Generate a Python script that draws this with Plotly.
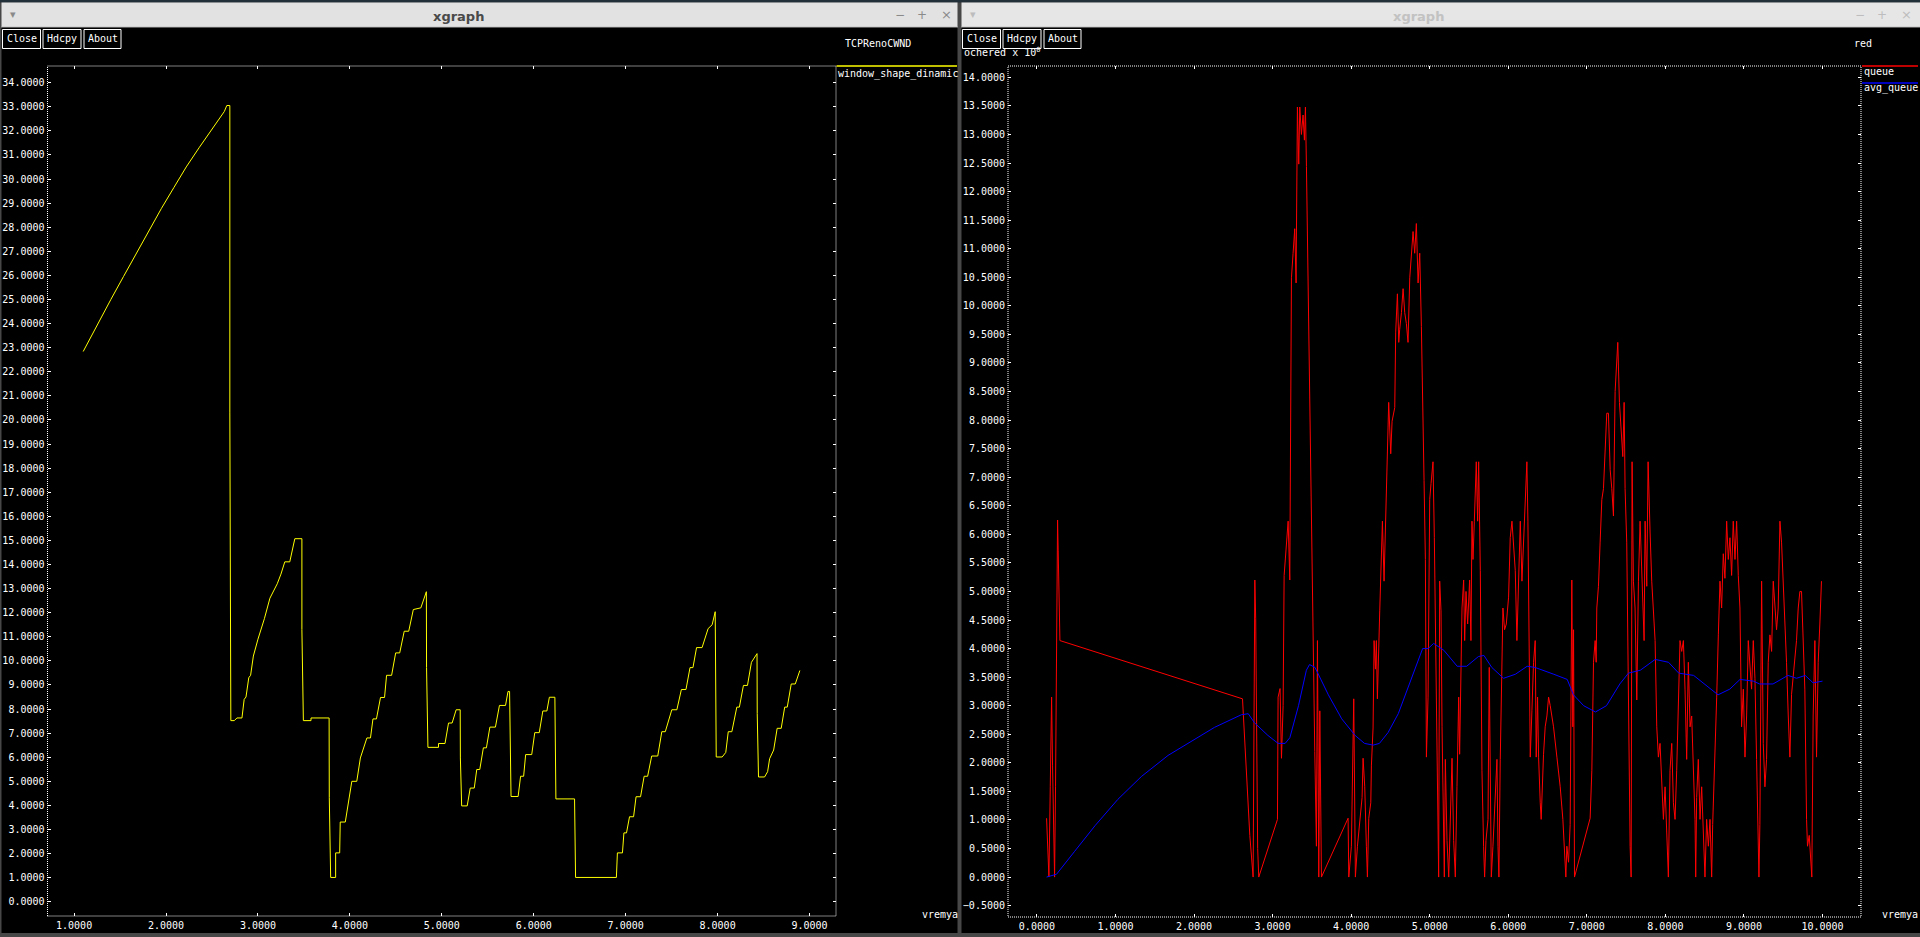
import plotly.graph_objects as go

# ---------------- data ----------------
cwnd_time = [1.099, 1.18, 1.263, 1.40, 1.537, 1.68, 1.811, 1.95, 2.086, 2.22, 2.360, 2.50, 2.634, 2.661, 2.694,
             2.694, 2.705, 2.743, 2.771, 2.826,
             2.85, 2.87, 2.90, 2.92, 2.95, 3.00, 3.07, 3.13, 3.21, 3.25, 3.292, 3.346, 3.38, 3.401, 3.478, 3.478,
             3.494, 3.577, 3.577, 3.774, 3.776, 3.791, 3.845, 3.845, 3.889, 3.895, 3.95, 3.982, 4.021, 4.075,
             4.114, 4.185, 4.224, 4.251, 4.289, 4.333, 4.377, 4.399, 4.454, 4.498, 4.542, 4.591, 4.640, 4.690,
             4.772, 4.832, 4.834, 4.849, 4.964, 4.964, 5.035, 5.073, 5.112, 5.156, 5.200, 5.202, 5.216, 5.276,
             5.309, 5.353, 5.380, 5.413, 5.452, 5.485, 5.523, 5.583, 5.627, 5.693, 5.720, 5.737, 5.753, 5.830,
             5.857, 5.890, 5.912, 5.978, 6.011, 6.060, 6.099, 6.143, 6.170, 6.230, 6.232, 6.241, 6.444, 6.446,
             6.455, 6.899, 6.910, 6.965, 6.981, 7.009, 7.042, 7.086, 7.113, 7.162, 7.201, 7.239, 7.283, 7.349,
             7.393, 7.431, 7.502, 7.557, 7.606, 7.656, 7.700, 7.732, 7.771, 7.831, 7.897, 7.941, 7.974, 7.985,
             8.050, 8.089, 8.116, 8.155, 8.209, 8.237, 8.281, 8.325, 8.368, 8.429, 8.431, 8.445, 8.511, 8.544,
             8.566, 8.610, 8.648, 8.692, 8.730, 8.758, 8.801, 8.845, 8.895]
cwnd_value = [22.84, 23.43, 24.0, 25.0, 25.95, 26.95, 27.85, 28.78, 29.65, 30.5, 31.3, 32.08, 32.8, 33.05, 33.05,
              20.29, 7.52, 7.52, 7.63, 7.63,
              8.4, 8.5, 9.3, 9.4, 10.2, 10.9, 11.75, 12.6, 13.2, 13.6, 14.11, 14.11, 14.7, 15.07, 15.07, 11.30,
              7.52, 7.52, 7.63, 7.63, 4.32, 1.01, 1.01, 2.03, 2.03, 3.31, 3.31, 4.16, 5.0, 5.0,
              5.97, 6.80, 6.80, 7.59, 7.59, 8.48, 8.48, 9.40, 9.40, 10.33, 10.33, 11.23, 11.23, 12.13,
              12.2, 12.87, 9.72, 6.41, 6.41, 6.57, 6.57, 7.42, 7.42, 7.97, 7.97, 5.97, 3.98, 3.98,
              4.72, 4.72, 5.49, 5.49, 6.39, 6.39, 7.25, 7.25, 8.15, 8.15, 8.73, 8.73, 4.37, 4.37,
              5.21, 5.21, 6.11, 6.11, 7.02, 7.02, 7.92, 7.92, 8.49, 8.49, 6.39, 4.27, 4.27, 2.63,
              1.01, 1.01, 2.03, 2.03, 2.86, 2.86, 3.53, 3.53, 4.36, 4.36, 5.21, 5.21, 6.05, 6.05,
              7.06, 7.06, 7.97, 7.97, 8.81, 8.81, 9.72, 9.72, 10.55, 10.55, 11.34, 11.5, 12.04, 6.01,
              6.01, 6.2, 7.06, 7.06, 8.08, 8.08, 8.98, 8.98, 9.94, 10.30, 7.81, 5.18, 5.18, 5.40,
              5.94, 6.3, 7.20, 7.20, 8.08, 8.08, 9.04, 9.04, 9.60]

queue_time = [0.123, 0.136, 0.153, 0.170, 0.187, 0.199, 0.212, 0.225, 0.237, 0.250, 0.263, 0.271, 0.280, 0.293,
              2.617, 2.625, 2.646, 2.668, 2.689, 2.710, 2.752, 2.774, 2.785, 2.795, 2.810, 2.824, 3.062, 3.070,
              3.095, 3.113, 3.134, 3.147, 3.176, 3.198, 3.219, 3.232, 3.240, 3.261, 3.282, 3.299, 3.316, 3.333,
              3.346, 3.367, 3.388, 3.405, 3.418, 3.431, 3.444, 3.465, 3.482, 3.503, 3.520, 3.537, 3.558, 3.571,
              3.588, 3.601, 3.622, 3.961, 3.970, 4.003, 4.033, 4.054, 4.080, 4.109, 4.139, 4.152, 4.173, 4.194,
              4.207, 4.224, 4.250, 4.258, 4.279, 4.292, 4.309, 4.321, 4.334, 4.364, 4.377, 4.398, 4.419, 4.436,
              4.461, 4.478, 4.504, 4.521, 4.555, 4.567, 4.589, 4.606, 4.618, 4.640, 4.661, 4.682, 4.703, 4.724,
              4.746, 4.767, 4.788, 4.809, 4.830, 4.852, 4.873, 4.894, 4.915, 4.928, 4.945, 4.958, 4.979, 5.0,
              5.017, 5.042, 5.059, 5.072, 5.093, 5.114, 5.127, 5.144, 5.157, 5.169, 5.186, 5.199, 5.220, 5.242,
              5.263, 5.284, 5.305, 5.326, 5.347, 5.369, 5.381, 5.398, 5.411, 5.432, 5.445, 5.462, 5.483, 5.508,
              5.525, 5.538, 5.551, 5.568, 5.593, 5.610, 5.623, 5.644, 5.665, 5.686, 5.699, 5.716, 5.742, 5.758,
              5.771, 5.784, 5.805, 5.822, 5.843, 5.856, 5.869, 5.881, 5.898, 5.911, 5.932, 5.953, 5.975, 6.004,
              6.025, 6.047, 6.068, 6.089, 6.110, 6.131, 6.153, 6.174, 6.195, 6.216, 6.237, 6.250, 6.263, 6.280,
              6.301, 6.322, 6.343, 6.356, 6.373, 6.386, 6.407, 6.419, 6.449, 6.470, 6.492, 6.513, 6.534, 6.576,
              6.619, 6.661, 6.695, 6.712, 6.733, 6.746, 6.767, 6.788, 6.809, 6.822, 6.831, 6.843, 7.042, 7.064,
              7.085, 7.106, 7.119, 7.127, 7.148, 7.169, 7.191, 7.212, 7.233, 7.254, 7.275, 7.297, 7.318, 7.339,
              7.360, 7.381, 7.394, 7.415, 7.436, 7.458, 7.475, 7.487, 7.508, 7.530, 7.551, 7.564, 7.576, 7.593,
              7.614, 7.636, 7.657, 7.678, 7.699, 7.712, 7.729, 7.742, 7.763, 7.780, 7.797, 7.805, 7.826, 7.847,
              7.869, 7.890, 7.911, 7.932, 7.953, 7.975, 7.996, 8.017, 8.038, 8.059, 8.081, 8.102, 8.123, 8.144,
              8.165, 8.186, 8.208, 8.229, 8.250, 8.271, 8.292, 8.314, 8.335, 8.356, 8.377, 8.386, 8.398, 8.419,
              8.441, 8.462, 8.483, 8.504, 8.525, 8.547, 8.568, 8.589, 8.602, 8.619, 8.631, 8.653, 8.674, 8.695,
              8.716, 8.737, 8.758, 8.780, 8.801, 8.822, 8.843, 8.864, 8.886, 8.907, 8.928, 8.949, 8.970, 8.992,
              9.013, 9.034, 9.055, 9.076, 9.097, 9.119, 9.140, 9.161, 9.182, 9.191, 9.203, 9.225, 9.246, 9.267,
              9.288, 9.309, 9.331, 9.352, 9.373, 9.394, 9.415, 9.436, 9.458, 9.479, 9.500, 9.521, 9.542, 9.564,
              9.585, 9.606, 9.627, 9.648, 9.669, 9.691, 9.712, 9.733, 9.754, 9.775, 9.797, 9.809, 9.831, 9.847,
              9.864, 9.881, 9.903, 9.924, 9.945, 9.966, 9.987]
queue_value = [1.03, 0.63, 0.0, 1.58, 3.15, 1.96, 1.15, 0.0, 1.58, 4.66, 6.25, 5.71, 4.66, 4.14,
               3.12, 2.91, 2.34, 1.77, 1.20, 0.73, 0.0, 5.20, 4.52, 2.2, 0.5, 0.0, 1.01, 3.15,
               3.30, 2.08, 3.0, 5.28, 5.94, 6.23, 5.20, 7.79, 10.49, 10.92, 11.35, 10.40, 13.48, 12.48,
               13.48, 13.0, 13.34, 12.9, 13.48, 12.44, 11.11, 9.69, 6.99, 5.80, 4.0, 2.20, 0.54, 4.14,
               0.0, 2.91, 0.0, 1.03, 0.0, 0.54, 3.12, 0.0, 0.54, 0.92, 1.39, 2.08, 1.58, 0.54,
               0.0, 1.03, 1.30, 1.96, 2.61, 4.14, 3.64, 4.14, 3.12, 4.66, 5.47, 6.23, 5.18, 5.99,
               7.55, 8.31, 7.41, 7.98, 8.22, 9.54, 10.21, 9.36, 9.59, 9.88, 10.30, 9.88, 9.69, 9.36,
               10.49, 10.92, 11.30, 10.92, 11.44, 10.40, 10.92, 9.64, 8.31, 6.94, 5.56, 2.10, 3.15, 6.61,
               6.89, 7.27, 5.94, 4.33, 1.87, 0.0, 5.18, 4.66, 2.63, 1.58, 0.0, 2.06, 0.64, 0.0,
               0.92, 2.08, 0.64, 0.0, 1.58, 3.15, 2.15, 3.67, 4.71, 5.20, 4.14, 5.0, 4.43, 5.20,
               4.14, 6.23, 5.56, 6.23, 7.27, 6.23, 7.27, 5.37, 1.87, 0.54, 0.0, 0.64, 1.01, 3.67,
               1.01, 0.0, 0.54, 1.01, 1.58, 2.06, 0.54, 0.0, 2.06, 3.0, 4.71, 4.33, 4.43, 4.90,
               5.94, 6.23, 5.71, 5.37, 4.14, 5.28, 6.23, 5.18, 5.85, 6.61, 7.27, 6.23, 4.14, 2.10,
               2.91, 3.76, 4.14, 2.10, 3.15, 2.10, 1.30, 1.01, 2.15, 2.63, 2.82, 3.15, 3.0, 2.63,
               2.10, 1.58, 1.01, 0.54, 0.0, 0.54, 0.26, 0.92, 5.20, 2.63, 4.33, 0.0, 1.03, 1.87,
               3.76, 4.14, 3.76, 4.71, 5.09, 5.85, 6.61, 6.80, 7.55, 8.12, 8.12, 7.13, 6.80, 6.32,
               8.50, 9.07, 9.36, 8.31, 7.74, 7.36, 8.31, 6.80, 5.85, 2.63, 0.54, 0.0, 7.27, 5.18,
               4.71, 3.10, 5.18, 6.23, 5.47, 4.71, 4.14, 6.23, 5.09, 7.27, 6.23, 6.04, 5.18, 4.71,
               4.14, 2.63, 2.10, 2.34, 1.58, 1.01, 1.58, 0.73, 0.0, 1.87, 2.34, 1.30, 1.01, 1.87,
               3.29, 4.14, 3.95, 4.14, 3.29, 2.06, 3.76, 2.63, 2.82, 2.06, 1.01, 0.0, 1.39, 2.06,
               1.01, 1.58, 0.82, 0.0, 1.01, 0.54, 1.01, 0.0, 0.92, 1.58, 2.34, 3.15, 4.24, 5.18,
               4.71, 5.66, 5.23, 6.23, 5.56, 5.94, 5.28, 6.23, 5.56, 6.23, 5.28, 4.71, 2.63, 3.29,
               2.10, 2.82, 4.14, 3.76, 3.29, 4.14, 3.48, 2.06, 0.92, 0.0, 0.92, 5.18, 2.34, 1.58,
               2.06, 3.76, 4.24, 3.95, 5.18, 4.71, 4.33, 4.71, 6.23, 5.85, 5.18, 4.71, 3.76, 2.82,
               2.10, 3.20, 3.48, 3.76, 4.14, 4.71, 5.0, 5.0, 4.24, 3.29, 1.01, 0.54, 0.73, 0.35,
               0.0, 2.82, 4.14, 2.10, 3.76, 4.43, 5.18]

avg_time = [0.123, 0.25, 0.48, 0.74, 1.03, 1.33, 1.67, 2.01, 2.26, 2.60, 2.69, 2.77, 2.94, 3.07, 3.16,
            3.22, 3.33, 3.43, 3.47, 3.54, 3.71, 3.88, 4.05, 4.17, 4.28, 4.36, 4.47, 4.60, 4.77, 4.91,
            4.98, 5.05, 5.18, 5.35, 5.47, 5.62, 5.69, 5.79, 5.94, 6.09, 6.24, 6.34, 6.58, 6.75, 6.83,
            6.96, 7.11, 7.25, 7.42, 7.53, 7.68, 7.87, 8.04, 8.17, 8.36, 8.53, 8.67, 8.82, 8.95, 9.12,
            9.20, 9.37, 9.56, 9.67, 9.78, 9.88, 10.0]
avg_value = [0.0, 0.05, 0.45, 0.90, 1.36, 1.76, 2.13, 2.42, 2.62, 2.84, 2.86, 2.70, 2.48, 2.34, 2.34,
             2.44, 3.0, 3.62, 3.72, 3.67, 3.19, 2.77, 2.48, 2.34, 2.31, 2.34, 2.53, 2.86, 3.48, 4.0,
             4.0, 4.09, 3.97, 3.69, 3.69, 3.86, 3.88, 3.67, 3.48, 3.55, 3.69, 3.67, 3.55, 3.46, 3.19,
             3.0, 2.89, 3.0, 3.38, 3.57, 3.62, 3.81, 3.76, 3.57, 3.53, 3.34, 3.19, 3.29, 3.46, 3.43,
             3.38, 3.38, 3.53, 3.48, 3.53, 3.40, 3.43]

left_title = "TCPRenoCWND"
right_title = "red"
left_series = "window_shape_dinamic"
right_series = ["queue", "avg_queue"]
x_label = "vremya"
y_label_right = "ochered x 10<sup>0</sup>"
buttons = ["Close", "Hdcpy", "About"]

# ---------------- layout helpers ----------------
W, H = 1920, 937
MONO = "DejaVu Sans Mono"


def px(x):
    return x / W


def py(y):
    return 1 - y / H


def txt(x, y, s, size=10, color="white", family=MONO, xanchor="left", yanchor="middle"):
    return dict(x=px(x), y=py(y), xref="paper", yref="paper", text=s, showarrow=False,
                font=dict(family=family, size=size, color=color), xanchor=xanchor, yanchor=yanchor,
                borderpad=0)


def rect(x0, y0, x1, y1, fill=None, line=None, lw=1, layer="below"):
    d = dict(type="rect", xref="paper", yref="paper", x0=px(x0), x1=px(x1), y0=py(y0), y1=py(y1),
             layer=layer, line=dict(width=0 if line is None else lw, color=line or "rgba(0,0,0,0)"))
    if fill:
        d["fillcolor"] = fill
    return d


def hline(x0, x1, y, color, w=1):
    return dict(type="line", xref="paper", yref="paper", x0=px(x0), x1=px(x1), y0=py(y), y1=py(y),
                line=dict(color=color, width=w), layer="above")


fig = go.Figure()
fig.add_trace(go.Scatter(x=cwnd_time, y=cwnd_value, mode="lines", line=dict(color="#ffff00", width=1),
                         xaxis="x", yaxis="y", name=left_series, hoverinfo="skip"))
fig.add_trace(go.Scatter(x=queue_time, y=queue_value, mode="lines", line=dict(color="#ff0000", width=1),
                         xaxis="x2", yaxis="y2", name=right_series[0], hoverinfo="skip"))
fig.add_trace(go.Scatter(x=avg_time, y=avg_value, mode="lines", line=dict(color="#0000ff", width=1),
                         xaxis="x2", yaxis="y2", name=right_series[1], hoverinfo="skip"))

axis_common = dict(showgrid=False, zeroline=False, showline=False, ticks="inside", ticklen=3,
                   tickwidth=1, tickcolor="white", mirror="ticks", tickformat=".4f",
                   tickfont=dict(family=MONO, size=10, color="white"), automargin=False,
                   fixedrange=True, ticklabelstandoff=2)

L = dict(x0=47.5, x1=836, y0=66, y1=916)
R = dict(x0=1008, x1=1861, y0=66, y1=917)

fig.update_layout(
    width=W, height=H, margin=dict(l=0, r=0, t=0, b=0),
    paper_bgcolor="#474747", plot_bgcolor="black", showlegend=False,
    xaxis=dict(domain=[px(L["x0"]), px(L["x1"])], range=[0.7106, 9.288], dtick=1, tick0=0,
               anchor="y", **axis_common),
    yaxis=dict(domain=[py(L["y1"]), py(L["y0"])], range=[-0.59, 34.69], dtick=1, tick0=0,
               anchor="x", **axis_common),
    xaxis2=dict(domain=[px(R["x0"]), px(R["x1"])], range=[-0.368, 10.49], dtick=1, tick0=0,
                anchor="y2", **axis_common),
    yaxis2=dict(domain=[py(R["y1"]), py(R["y0"])], range=[-0.699, 14.198], dtick=0.5, tick0=0,
                anchor="x2", **axis_common),
)

shapes = []
# desktop strip / window chrome
shapes.append(rect(0, 0, W, 2.5, fill="#22303a"))
for (wx0, wx1, active) in [(1.5, 957.5, True), (961.5, 1920, False)]:
    shapes.append(rect(wx0, 2.5, wx1, 27.5, fill="#e2e2e2" if active else "#e6e6e6"))
    shapes.append(rect(wx0, 26.5, wx1, 27.5, fill="#c4c4c4"))
    shapes.append(rect(wx0, 27.5, wx1, 933, fill="black"))
# buttons
for off in (0, 960):
    for (bx0, bx1) in [(2.5, 40.5), (43, 81), (84, 121)]:
        shapes.append(rect(off + bx0, 29.5, off + bx1, 48.5, line="white", lw=1, layer="above"))
# dotted frames
for xr, yr in [("x", "y"), ("x2", "y2")]:
    shapes.append(dict(type="rect", xref=f"{xr} domain", yref=f"{yr} domain", x0=0, x1=1, y0=0, y1=1,
                       line=dict(color="white", width=1, dash="1px,1px"), layer="above"))
# legend swatches
shapes.append(hline(836.5, 957, 66, "#ffff00", 1.5))
shapes.append(hline(1862, 1918, 66, "#ff0000", 1.5))
shapes.append(hline(1862, 1918, 83, "#0000ff", 1.5))

ann = []
ann.append(txt(458, 16, "<b>xgraph</b>", size=13, color="#4a4a4a", family="DejaVu Sans", xanchor="center"))
ann.append(txt(1418, 16, "<b>xgraph</b>", size=13, color="#c2c2c2", family="DejaVu Sans", xanchor="center"))
for off, col in [(0, "#8a8a8a"), (960, "#bdbdbd")]:
    ann.append(txt(off + 13, 15, "▾", size=11, color=col, family="DejaVu Sans", xanchor="center"))
    ann.append(txt(off + 900, 15, "−", size=12, color=col, family="DejaVu Sans", xanchor="center"))
    ann.append(txt(off + 921.5, 15, "+", size=12, color=col, family="DejaVu Sans", xanchor="center"))
    ann.append(txt(off + 946, 15, "×", size=13, color=col, family="DejaVu Sans", xanchor="center"))
    for (cx, label) in zip([21.5, 62, 102.5], buttons):
        ann.append(txt(off + cx, 39, label, size=10, xanchor="center"))
ann.append(txt(878, 43, left_title, size=10, xanchor="center"))
ann.append(txt(1863, 43, right_title, size=10, xanchor="center"))
ann.append(txt(963, 52, y_label_right, size=10))
ann.append(txt(837, 74, left_series, size=10))
ann.append(txt(1863, 71, right_series[0], size=10))
ann.append(txt(1863, 88, right_series[1], size=10))
ann.append(txt(939.5, 914, x_label, size=10, xanchor="center"))
ann.append(txt(1900, 914, x_label, size=10, xanchor="center"))

fig.update_layout(shapes=shapes, annotations=ann)

fig.write_html("out.html", config={"displayModeBar": False},
               post_script="document.body.style.margin='0';document.body.style.overflow='hidden';")
